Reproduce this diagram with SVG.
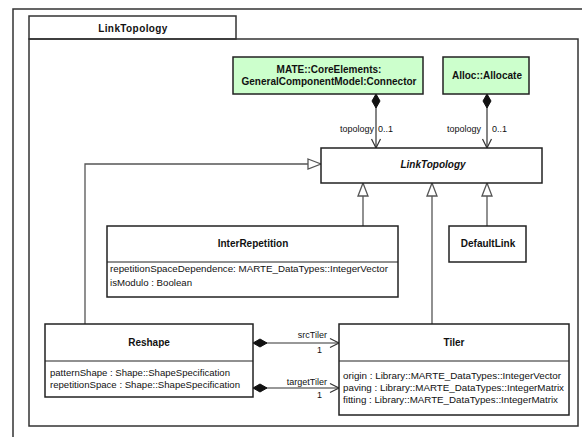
<svg xmlns="http://www.w3.org/2000/svg" width="582" height="437" viewBox="0 0 582 437">
<style>
text{font-family:"Liberation Sans",Arial,sans-serif;fill:#111;}
.box{fill:#fff;stroke:#222;stroke-width:1.5;}
.green{fill:#ccffcc;stroke:#222;stroke-width:1.5;}
.frame{fill:none;stroke:#333;stroke-width:1.5;}
.title{font-size:10px;font-weight:bold;text-anchor:middle;}
.attr{font-size:9.5px;}
.lbl{font-size:9px;}
.gen{fill:none;stroke:#555;stroke-width:1.3;marker-end:url(#tri);}
.comp{fill:none;stroke:#333;stroke-width:1.2;marker-start:url(#dia);marker-end:url(#open);}
</style>
<defs>
<marker id="tri" markerUnits="userSpaceOnUse" markerWidth="15" markerHeight="12" refX="14" refY="6" orient="auto">
<path d="M1,1 L14,6 L1,11 Z" fill="#fff" stroke="#555" stroke-width="1.3"/>
</marker>
<marker id="dia" markerUnits="userSpaceOnUse" markerWidth="16" markerHeight="10" refX="1" refY="5" orient="auto">
<path d="M1,5 L8,1 L15,5 L8,9 Z" fill="#111" stroke="#111" stroke-width="1"/>
</marker>
<marker id="open" markerUnits="userSpaceOnUse" markerWidth="12" markerHeight="12" refX="10" refY="6" orient="auto">
<path d="M1,1.5 L10,6 L1,10.5" fill="none" stroke="#333" stroke-width="1.2"/>
</marker>
</defs>
<rect width="582" height="437" fill="#fff"/>
<g id="outer-frame">
<rect x="13" y="9" width="620" height="480" class="frame"/>
</g>
<g id="package">
<rect x="29" y="39" width="549" height="387" class="frame"/>
<rect x="29" y="16" width="207" height="23" class="frame"/>
<text x="133" y="32" class="title" letter-spacing="0.4">LinkTopology</text>
</g>
<g id="connectors">
<path class="comp" d="M376,94 L376,148"/>
<path class="comp" d="M487,94 L487,148"/>
<path class="gen" d="M85,324 L85,164 L321,164"/>
<path class="gen" d="M363,226 L363,183"/>
<path class="gen" d="M432,324 L432,183"/>
<path class="gen" d="M487,226 L487,183"/>
<path class="comp" d="M253,343 L339,343"/>
<path class="comp" d="M253,388 L339,388"/>
<text x="340" y="132" class="lbl">topology</text>
<text x="378" y="132" class="lbl">0..1</text>
<text x="447" y="132" class="lbl">topology</text>
<text x="492" y="132" class="lbl">0..1</text>
<text x="327" y="338" class="lbl" text-anchor="end">srcTiler</text>
<text x="322" y="353" class="lbl" text-anchor="end">1</text>
<text x="327" y="385" class="lbl" text-anchor="end">targetTiler</text>
<text x="322" y="398" class="lbl" text-anchor="end">1</text>
</g>
<g id="connector-node">
<rect x="233" y="57" width="190" height="37" class="green"/>
<text x="329" y="73" class="title">MATE::CoreElements:</text>
<text x="329" y="85" class="title">GeneralComponentModel:Connector</text>
</g>
<g id="allocate-node">
<rect x="443" y="57" width="86" height="37" class="green"/>
<text x="487" y="79" class="title">Alloc::Allocate</text>
</g>
<g id="linktopology-node">
<rect x="321" y="148" width="221" height="35" class="box"/>
<text x="433" y="168" class="title" font-style="italic">LinkTopology</text>
</g>
<g id="interrepetition-node">
<rect x="107" y="226" width="291" height="71" class="box"/>
<line x1="107" y1="262" x2="398" y2="262" stroke="#222" stroke-width="1.2"/>
<text x="253" y="247" class="title">InterRepetition</text>
<text x="110" y="272" class="attr" textLength="278" lengthAdjust="spacingAndGlyphs">repetitionSpaceDependence: MARTE_DataTypes::IntegerVector</text>
<text x="110" y="286" class="attr" textLength="82" lengthAdjust="spacingAndGlyphs">isModulo : Boolean</text>
</g>
<g id="defaultlink-node">
<rect x="449" y="226" width="77" height="36" class="box"/>
<text x="488" y="247" class="title">DefaultLink</text>
</g>
<g id="reshape-node">
<rect x="45" y="324" width="208" height="73" class="box"/>
<line x1="45" y1="361" x2="253" y2="361" stroke="#222" stroke-width="1.2"/>
<text x="149" y="346" class="title">Reshape</text>
<text x="50" y="376" class="attr" textLength="180" lengthAdjust="spacingAndGlyphs">patternShape : Shape::ShapeSpecification</text>
<text x="50" y="388" class="attr" textLength="190" lengthAdjust="spacingAndGlyphs">repetitionSpace : Shape::ShapeSpecification</text>
</g>
<g id="tiler-node">
<rect x="339" y="324" width="230" height="91" class="box"/>
<line x1="339" y1="361" x2="569" y2="361" stroke="#222" stroke-width="1.2"/>
<text x="454" y="346" class="title">Tiler</text>
<text x="343" y="379" class="attr" textLength="218" lengthAdjust="spacingAndGlyphs">origin : Library::MARTE_DataTypes::IntegerVector</text>
<text x="343" y="391" class="attr" textLength="221" lengthAdjust="spacingAndGlyphs">paving : Library::MARTE_DataTypes::IntegerMatrix</text>
<text x="343" y="403" class="attr" textLength="215" lengthAdjust="spacingAndGlyphs">fitting : Library::MARTE_DataTypes::IntegerMatrix</text>
</g>
</svg>
